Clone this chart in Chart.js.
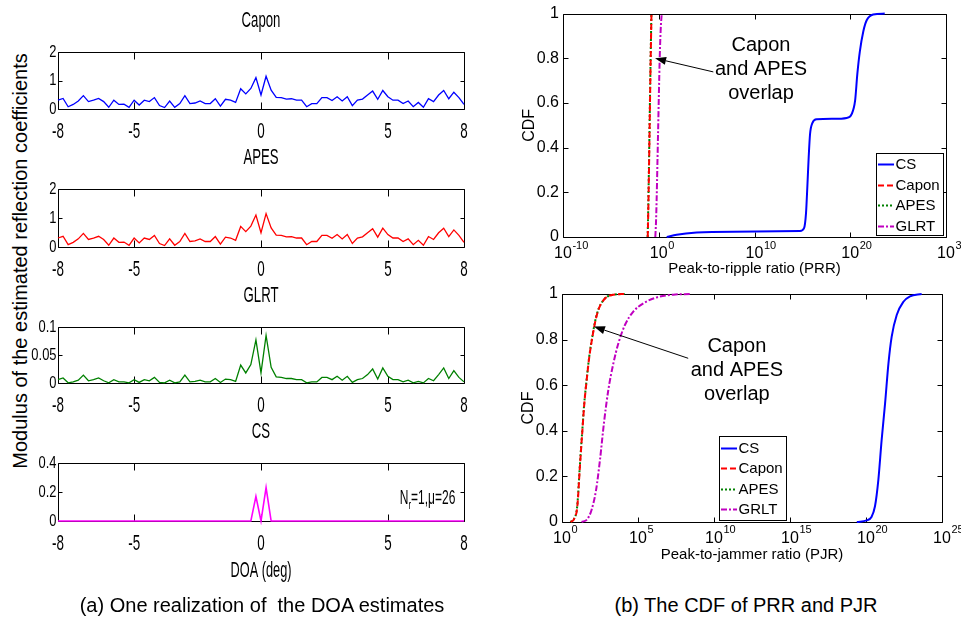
<!DOCTYPE html>
<html>
<head>
<meta charset="utf-8">
<title>DOA estimates and CDF of PRR / PJR</title>
<script src="https://cdn.jsdelivr.net/npm/chart.js@4.4.1/dist/chart.umd.min.js"></script>
<style>
  html, body { margin: 0; padding: 0; background: #fff; }
  #page { position: relative; width: 961px; height: 619px; overflow: hidden;
          font-family: 'Liberation Sans', Arial, Helvetica, sans-serif; color: #000; }
  #page canvas { position: absolute; }
  .label { position: absolute; white-space: nowrap; font-size: 20px; line-height: 1;
           transform: translate(-50%, -50%); }
  #ylabel { transform: translate(-50%, -50%) rotate(-90deg); }
</style>
</head>
<body>
<div id="page">
  <div class="label" id="ylabel" style="left:20px; top:261px;">Modulus of the estimated reflection coefficients</div>
  <canvas id="cvCapon" width="480" height="140" style="left:0;top:0"></canvas>
  <canvas id="cvApes" width="480" height="141" style="left:0;top:137px"></canvas>
  <canvas id="cvGlrt" width="480" height="139" style="left:0;top:275px"></canvas>
  <canvas id="cvCs" width="480" height="175" style="left:0;top:411px"></canvas>
  <canvas id="cvPrr" width="461" height="290" style="left:500px;top:0"></canvas>
  <canvas id="cvPjr" width="461" height="290" style="left:500px;top:280px"></canvas>
  <div class="label" style="left:262px; top:605px;">(a) One realization of&nbsp; the DOA estimates</div>
  <div class="label" style="left:746px; top:605px;">(b) The CDF of PRR and PJR</div>
</div>
<script>
// ---- DOA grid (degrees) and axis ticks ----
const doaDeg = [-8, -7.8, -7.6, -7.4, -7.2, -7, -6.8, -6.6, -6.4, -6.2,
                -6, -5.8, -5.6, -5.4, -5.2, -5, -4.8, -4.6, -4.4, -4.2,
                -4, -3.8, -3.6, -3.4, -3.2, -3, -2.8, -2.6, -2.4, -2.2,
                -2, -1.8, -1.6, -1.4, -1.2, -1, -0.8, -0.6, -0.4, -0.2,
                0, 0.2, 0.4, 0.6, 0.8, 1, 1.2, 1.4, 1.6, 1.8,
                2, 2.2, 2.4, 2.6, 2.8, 3, 3.2, 3.4, 3.6, 3.8,
                4, 4.2, 4.4, 4.6, 4.8, 5, 5.2, 5.4, 5.6, 5.8,
                6, 6.2, 6.4, 6.6, 6.8, 7, 7.2, 7.4, 7.6, 7.8,
                8];
const doaTicks = [-8, -5, 0, 5, 8];

// ---- modulus of the estimated reflection coefficients ----
const caponMod = [0.31, 0.37, 0.08, 0.16, 0.28, 0.47, 0.26, 0.31, 0.37, 0.26,
                  0.06, 0.31, 0.16, 0.17, 0.06, 0.31, 0.14, 0.31, 0.26, 0.40,
                  0.12, 0.05, 0.28, 0.06, 0.19, 0.47, 0.19, 0.21, 0.28, 0.19,
                  0.19, 0.36, 0.10, 0.34, 0.31, 0.23, 0.71, 0.53, 0.72, 1.10,
                  0.49, 1.15, 0.66, 0.41, 0.40, 0.35, 0.36, 0.31, 0.31, 0.08,
                  0.19, 0.19, 0.40, 0.40, 0.30, 0.43, 0.28, 0.43, 0.12, 0.31,
                  0.35, 0.49, 0.63, 0.34, 0.65, 0.43, 0.31, 0.31, 0.19, 0.28,
                  0.08, 0.23, 0.06, 0.36, 0.26, 0.49, 0.65, 0.36, 0.59, 0.40,
                  0.16];
const apesMod = [0.31, 0.37, 0.08, 0.16, 0.28, 0.47, 0.26, 0.31, 0.37, 0.26,
                 0.06, 0.31, 0.16, 0.17, 0.06, 0.31, 0.14, 0.31, 0.26, 0.40,
                 0.12, 0.05, 0.28, 0.06, 0.19, 0.47, 0.19, 0.21, 0.28, 0.19,
                 0.19, 0.36, 0.10, 0.34, 0.31, 0.23, 0.71, 0.53, 0.72, 1.10,
                 0.49, 1.15, 0.66, 0.41, 0.40, 0.35, 0.36, 0.31, 0.31, 0.08,
                 0.19, 0.19, 0.40, 0.40, 0.30, 0.43, 0.28, 0.43, 0.12, 0.31,
                 0.35, 0.49, 0.63, 0.34, 0.65, 0.43, 0.31, 0.31, 0.19, 0.28,
                 0.08, 0.23, 0.06, 0.36, 0.26, 0.49, 0.65, 0.36, 0.59, 0.40,
                 0.16];
const glrtMod = [0.006, 0.009, 0.0004, 0.002, 0.005, 0.014, 0.004, 0.006, 0.009, 0.004,
                 0.0002, 0.006, 0.002, 0.002, 0.0002, 0.006, 0.001, 0.006, 0.004, 0.010,
                 0.001, 0.0002, 0.005, 0.0002, 0.002, 0.014, 0.002, 0.003, 0.005, 0.002,
                 0.002, 0.008, 0.001, 0.007, 0.006, 0.003, 0.032, 0.018, 0.033, 0.077,
                 0.018, 0.085, 0.028, 0.011, 0.010, 0.008, 0.008, 0.006, 0.006, 0.0004,
                 0.002, 0.002, 0.010, 0.010, 0.006, 0.012, 0.005, 0.012, 0.001, 0.006,
                 0.008, 0.015, 0.025, 0.007, 0.027, 0.012, 0.006, 0.006, 0.002, 0.005,
                 0.0004, 0.003, 0.0002, 0.008, 0.004, 0.015, 0.027, 0.008, 0.022, 0.010,
                 0.002];
const csMod = [0, 0, 0, 0, 0, 0, 0, 0, 0, 0,
               0, 0, 0, 0, 0, 0, 0, 0, 0, 0,
               0, 0, 0, 0, 0, 0, 0, 0, 0, 0,
               0, 0, 0, 0, 0, 0, 0, 0, 0, 0.17,
               0, 0.23, 0, 0, 0, 0, 0, 0, 0, 0,
               0, 0, 0, 0, 0, 0, 0, 0, 0, 0,
               0, 0, 0, 0, 0, 0, 0, 0, 0, 0,
               0, 0, 0, 0, 0, 0, 0, 0, 0, 0,
               0];
const caponTicksY = [0, 1, 2];
const apesTicksY = [0, 1, 2];
const glrtTicksY = [0, 0.05, 0.1];
const csTicksY = [0, 0.2, 0.4];

// ---- CDF of the peak-to-ripple ratio (PRR) ----
const prrCsX = [6.8, 74, 9.1e3, 6.2e7, 5.6e14, 1.5e15, 2.4e15, 3.3e15, 4.6e15, 6.3e15, 1.1e16,
                3.2e16, 1.7e18, 4.3e19, 1.4e20, 3.2e20, 5.5e20, 1.0e21, 2.3e21, 5.2e21, 2.5e22, 4.0e23];
const prrCsY = [0, 0.01, 0.02, 0.024, 0.027, 0.04, 0.107, 0.225, 0.36, 0.46, 0.51,
                0.527, 0.529, 0.533, 0.55, 0.61, 0.73, 0.83, 0.92, 0.97, 0.996, 1];
const prrCaponX = [0.0708, 0.0794, 0.0955, 0.112, 0.132, 0.151, 0.174];
const prrCaponY = [0, 0.1, 0.3, 0.5, 0.7, 0.85, 1];
const prrApesX = [0.0692, 0.0776, 0.0933, 0.110, 0.129, 0.148, 0.170];
const prrApesY = [0, 0.1, 0.3, 0.5, 0.7, 0.85, 1];
const prrGlrtX = [0.437, 0.52, 0.603, 0.832, 1.26, 1.6, 2.04];
const prrGlrtY = [0, 0.07, 0.17, 0.45, 0.8, 0.93, 1];
const prrTicks = [1e-10, 1e0, 1e10, 1e20, 1e30];

// ---- CDF of the peak-to-jammer ratio (PJR) ----
const pjrCsX = [2.5e19, 1.1e20, 2.3e20, 3.9e20, 6.5e20, 1.07e21, 1.8e21, 3.0e21, 4.9e21, 1.05e22, 2.9e22, 7.8e22, 4.6e23];
const pjrCsY = [0, 0.007, 0.022, 0.069, 0.185, 0.36, 0.52, 0.696, 0.813, 0.908, 0.966, 0.99, 1];
const pjrCaponX = [3.7, 6.2, 10.2, 15.1, 21.9, 29.5, 41.7, 63.1, 105, 162, 269, 676, 2400, 13800];
const pjrCaponY = [0, 0.013, 0.069, 0.244, 0.40, 0.52, 0.62, 0.726, 0.82, 0.886, 0.937, 0.98, 0.997, 1];
const pjrApesX = [3.6, 6.1, 10.0, 14.8, 21.5, 29.0, 41.0, 62.0, 103, 158, 263, 660, 2350, 13500];
const pjrApesY = [0, 0.013, 0.069, 0.244, 0.40, 0.52, 0.62, 0.726, 0.82, 0.886, 0.937, 0.98, 0.997, 1];
const pjrGlrtX = [19.5, 46.8, 89, 174, 316, 575, 1120, 2400, 5130, 13800, 49000, 224000, 1.7e6, 2.1e7, 2.6e8];
const pjrGlrtY = [0, 0.013, 0.054, 0.14, 0.273, 0.434, 0.58, 0.696, 0.784, 0.864, 0.923, 0.959, 0.985, 0.997, 1];
const pjrTicks = [1e0, 1e5, 1e10, 1e15, 1e20, 1e25];

const cdfTicks = [0, 0.2, 0.4, 0.6, 0.8, 1];
const overlapLines = ['Capon', 'and APES', 'overlap'];

// ---- styling ----
const SANS = "'Liberation Sans', Arial, Helvetica, sans-serif";
Chart.defaults.color = '#000';
Chart.defaults.font.family = SANS;

function pairUp(xs, ys) { return xs.map((v, i) => ({ x: v, y: ys[i] })); }

// Horizontally condensed text (tall, narrow lettering of the DOA panels)
function drawCondensed(ctx, text, x, y, size, sx, align) {
  ctx.save();
  ctx.translate(x, y);
  ctx.scale(sx, 1);
  ctx.font = size + 'px ' + SANS;
  ctx.textAlign = align;
  ctx.textBaseline = 'middle';
  ctx.fillStyle = '#000';
  ctx.fillText(text, 0, 0);
  ctx.restore();
}

// Box-style axes: black frame with inward tick marks on all four sides
function framePlugin(xLen, yLen) {
  return {
    id: 'frame',
    beforeDatasetsDraw(chart) {
      const { ctx, chartArea: a, scales: { x, y } } = chart;
      const L = Math.round(a.left) + 0.5, R = Math.round(a.right) + 0.5;
      const T = Math.round(a.top) + 0.5, B = Math.round(a.bottom) + 0.5;
      ctx.save();
      ctx.strokeStyle = '#000'; ctx.lineWidth = 1; ctx.setLineDash([]);
      ctx.beginPath();
      ctx.rect(L, T, R - L, B - T);
      x.ticks.forEach(t => {
        const p = Math.round(x.getPixelForValue(t.value)) + 0.5;
        ctx.moveTo(p, B); ctx.lineTo(p, B - xLen);
        ctx.moveTo(p, T); ctx.lineTo(p, T + xLen);
      });
      y.ticks.forEach(t => {
        const p = Math.round(y.getPixelForValue(t.value)) + 0.5;
        ctx.moveTo(L, p); ctx.lineTo(L + yLen, p);
        ctx.moveTo(R, p); ctx.lineTo(R - yLen, p);
      });
      ctx.stroke();
      ctx.restore();
    }
  };
}

// Title, tick labels and axis title of a DOA panel, placed from its scales
function doaLabelsPlugin(title, xTitle) {
  return {
    id: 'doaLabels',
    afterDraw(chart) {
      const { ctx, chartArea: a, scales: { x, y } } = chart;
      const cx = (a.left + a.right) / 2;
      drawCondensed(ctx, title, cx, a.top - 31, 22, 0.6, 'center');
      x.ticks.forEach(t => drawCondensed(ctx, String(t.value), x.getPixelForValue(t.value), a.bottom + 22.5, 22, 0.61, 'center'));
      y.ticks.forEach(t => drawCondensed(ctx, String(t.value), a.left - 1.5, y.getPixelForValue(t.value), 17, 0.76, 'right'));
      if (xTitle) drawCondensed(ctx, xTitle, cx, a.bottom + 50, 22, 0.58, 'center');
    }
  };
}

// Text with a subscript, anchored at a data position
function annotationTextPlugin(at, parts, sx) {
  return {
    id: 'annotationText',
    afterDatasetsDraw(chart) {
      const { ctx, scales: { x, y } } = chart;
      const px = x.getPixelForValue(at[0]);
      const py = y.getPixelForValue(at[1]);
      ctx.save();
      ctx.translate(px, py);
      ctx.scale(sx, 1);
      ctx.fillStyle = '#000'; ctx.textAlign = 'left'; ctx.textBaseline = 'alphabetic';
      let off = 0;
      parts.forEach(p => {
        ctx.font = p.size + 'px ' + SANS;
        ctx.fillText(p.text, off, p.shift || 0);
        off += ctx.measureText(p.text).width;
      });
      ctx.restore();
    }
  };
}

// Power-of-ten tick labels ("10" with a raised exponent) of a log axis
function powerLabelPlugin(baseDy, expDy) {
  return {
    id: 'powerLabels',
    afterDraw(chart) {
      const { ctx, scales: { x } } = chart;
      ctx.save();
      ctx.fillStyle = '#000'; ctx.textBaseline = 'middle';
      ctx.font = '16px ' + SANS;
      const half = ctx.measureText('10').width / 2;
      x.ticks.forEach(t => {
        const p = x.getPixelForValue(t.value);
        ctx.font = '16px ' + SANS; ctx.textAlign = 'center';
        ctx.fillText('10', p, x.top + baseDy);
        ctx.font = '11px ' + SANS; ctx.textAlign = 'left';
        ctx.fillText(String(Math.round(Math.log10(t.value))), p + half + 0.5, x.top + expDy);
      });
      ctx.restore();
    }
  };
}

// Multi-line note with an arrow pointing at the overlapping curves
function overlapNotePlugin(textAt, lines, lineGap, tail, head) {
  return {
    id: 'overlapNote',
    afterDatasetsDraw(chart) {
      const { ctx, scales: { x, y } } = chart;
      const cx = x.getPixelForValue(textAt[0]), cy = y.getPixelForValue(textAt[1]);
      ctx.save();
      ctx.fillStyle = '#000'; ctx.font = '20px ' + SANS;
      ctx.textAlign = 'center'; ctx.textBaseline = 'middle';
      lines.forEach((t, i) => ctx.fillText(t, cx, cy + (i - (lines.length - 1) / 2) * lineGap));
      const x0 = x.getPixelForValue(tail[0]), y0 = y.getPixelForValue(tail[1]);
      const x1 = x.getPixelForValue(head[0]), y1 = y.getPixelForValue(head[1]);
      const ang = Math.atan2(y1 - y0, x1 - x0), len = 11, wid = 4;
      const bx = x1 - len * Math.cos(ang), by = y1 - len * Math.sin(ang);
      ctx.strokeStyle = '#000'; ctx.lineWidth = 1;
      ctx.beginPath(); ctx.moveTo(x0, y0); ctx.lineTo(bx, by); ctx.stroke();
      ctx.beginPath();
      ctx.moveTo(x1, y1);
      ctx.lineTo(bx - wid * Math.sin(ang), by + wid * Math.cos(ang));
      ctx.lineTo(bx + wid * Math.sin(ang), by - wid * Math.cos(ang));
      ctx.closePath(); ctx.fill();
      ctx.restore();
    }
  };
}

// Boxed legend placed inside the plot
function boxLegendPlugin(box) {
  return {
    id: 'boxLegend',
    afterDraw(chart) {
      const ctx = chart.ctx;
      ctx.save();
      ctx.fillStyle = '#fff';
      ctx.fillRect(box.x, box.y, box.w, box.h);
      ctx.strokeStyle = '#000'; ctx.lineWidth = 1; ctx.setLineDash([]);
      ctx.strokeRect(box.x + 0.5, box.y + 0.5, box.w, box.h);
      ctx.font = '15px ' + SANS; ctx.textAlign = 'left'; ctx.textBaseline = 'middle';
      chart.data.datasets.forEach((ds, i) => {
        const cy = Math.round(box.y + box.first + i * box.gap) + 0.5;
        ctx.strokeStyle = ds.borderColor; ctx.lineWidth = ds.borderWidth;
        ctx.setLineDash(ds.borderDash || []);
        ctx.beginPath(); ctx.moveTo(box.x + 2, cy); ctx.lineTo(box.x + 18, cy); ctx.stroke();
        ctx.setLineDash([]);
        ctx.fillStyle = '#000';
        ctx.fillText(ds.label, box.x + 19.5, cy);
      });
      ctx.restore();
    }
  };
}

function doaPanel(canvasId, title, values, color, lineWidth, yMax, yTicks, xAxisHeight, xTitle, extra) {
  return new Chart(document.getElementById(canvasId), {
    type: 'line',
    data: { datasets: [{ label: title, data: pairUp(doaDeg, values), borderColor: color,
                         borderWidth: lineWidth, pointRadius: 0, tension: 0, clip: 4, fill: false }] },
    options: {
      responsive: false, animation: false, events: [],
      layout: { padding: { top: 52, right: 16, bottom: 1, left: 0 } },
      plugins: { legend: { display: false }, tooltip: { enabled: false }, title: { display: false } },
      scales: {
        x: {
          type: 'linear', min: -8, max: 8,
          afterBuildTicks: s => { s.ticks = doaTicks.map(v => ({ value: v })); },
          afterFit: s => { s.height = xAxisHeight; },
          grid: { display: false, drawTicks: false }, border: { display: false },
          ticks: { display: false, autoSkip: false }
        },
        y: {
          type: 'linear', min: 0, max: yMax,
          afterBuildTicks: s => { s.ticks = yTicks.map(v => ({ value: v })); },
          afterFit: s => { s.width = 58; },
          grid: { display: false, drawTicks: false }, border: { display: false },
          ticks: { display: false }
        }
      }
    },
    plugins: [framePlugin(7, 4), doaLabelsPlugin(title, xTitle)].concat(extra || [])
  });
}

function cdfPanel(canvasId, datasets, xMin, xMax, xTicks, xTitle, pad, yWidth, xAxisHeight, cdfPad, extra) {
  return new Chart(document.getElementById(canvasId), {
    type: 'line',
    data: { datasets: datasets.map(d => ({
      label: d.label, data: pairUp(d.xs, d.ys), borderColor: d.color, borderWidth: 2,
      borderDash: d.dash, pointRadius: 0, cubicInterpolationMode: 'monotone', fill: false, clip: 3
    })) },
    options: {
      responsive: false, animation: false, events: [],
      layout: { padding: pad },
      plugins: { legend: { display: false }, tooltip: { enabled: false }, title: { display: false } },
      scales: {
        x: {
          type: 'logarithmic', min: xMin, max: xMax,
          afterBuildTicks: s => { s.ticks = xTicks.map(v => ({ value: v })); },
          afterFit: s => { s.height = xAxisHeight; },
          grid: { display: false, drawTicks: false }, border: { display: false },
          ticks: { display: false, autoSkip: false },
          title: { display: true, text: xTitle, color: '#000', font: { family: SANS, size: 15 },
                   padding: { top: 0, bottom: 0 } }
        },
        y: {
          type: 'linear', min: 0, max: 1,
          afterBuildTicks: s => { s.ticks = cdfTicks.map(v => ({ value: v })); },
          afterFit: s => { s.width = yWidth; },
          grid: { display: false, drawTicks: false }, border: { display: false },
          ticks: { font: { family: SANS, size: 16 }, color: '#000', padding: 4,
                   callback: v => String(v) },
          title: { display: true, text: 'CDF', color: '#000', font: { family: SANS, size: 16 },
                   padding: { top: cdfPad, bottom: 0 } }
        }
      }
    },
    plugins: [framePlugin(5, 5)].concat(extra || [])
  });
}

// ---- (a) one realization of the DOA estimates ----
doaPanel('cvCapon', 'Capon', caponMod, '#0000ff', 1.3, 2, caponTicksY, 30);
doaPanel('cvApes', 'APES', apesMod, '#ff0000', 1.3, 2, apesTicksY, 30);
doaPanel('cvGlrt', 'GLRT', glrtMod, '#008000', 1.3, 0.1, glrtTicksY, 30);
doaPanel('cvCs', 'CS', csMod, '#ff00ff', 1.6, 0.4, csTicksY, 64, 'DOA (deg)', [
  annotationTextPlugin([5.47, 0.117], [
    { text: 'N', size: 20 }, { text: 'r', size: 13, shift: 5 }, { text: '=1,μ=26', size: 20 }
  ], 0.6)
]);

// ---- (b) CDF of PRR and PJR ----
cdfPanel('cvPrr', [
  { label: 'CS', xs: prrCsX, ys: prrCsY, color: '#0000ff', dash: [] },
  { label: 'Capon', xs: prrCaponX, ys: prrCaponY, color: '#ff0000', dash: [6, 3] },
  { label: 'APES', xs: prrApesX, ys: prrApesY, color: '#008000', dash: [2, 2] },
  { label: 'GLRT', xs: prrGlrtX, ys: prrGlrtY, color: '#c000c0', dash: [6, 2, 2, 2] }
], 1e-10, 1e30, prrTicks, 'Peak-to-ripple ratio (PRR)',
   { top: 12, right: 15, bottom: 12, left: 0 }, 63, 41, 20, [
  powerLabelPlugin(17, 9),
  overlapNotePlugin([4.8e10, 0.751], overlapLines, 24, [5.0e5, 0.739], [0.41, 0.80]),
  boxLegendPlugin({ x: 376, y: 153, w: 67, h: 82, first: 11, gap: 20.5 })
]);

cdfPanel('cvPjr', [
  { label: 'CS', xs: pjrCsX, ys: pjrCsY, color: '#0000ff', dash: [] },
  { label: 'Capon', xs: pjrCaponX, ys: pjrCaponY, color: '#ff0000', dash: [6, 3] },
  { label: 'APES', xs: pjrApesX, ys: pjrApesY, color: '#008000', dash: [2, 2] },
  { label: 'GRLT', xs: pjrGlrtX, ys: pjrGlrtY, color: '#c000c0', dash: [6, 2, 2, 2] }
], 1e0, 1e25, pjrTicks, 'Peak-to-jammer ratio (PJR)',
   { top: 14, right: 19, bottom: 6, left: 0 }, 62, 42, 19, [
  powerLabelPlugin(17, 8),
  overlapNotePlugin([3.2e11, 0.663], overlapLines, 24, [2.0e8, 0.718], [126, 0.857]),
  boxLegendPlugin({ x: 219, y: 156, w: 67, h: 84, first: 12, gap: 20.4 })
]);
</script>
</body>
</html>
